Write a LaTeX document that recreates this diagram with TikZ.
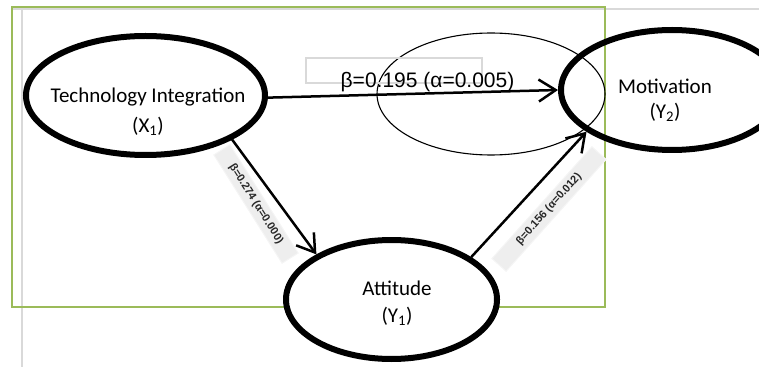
\documentclass[tikz,border=0pt]{standalone}
\usepackage{fontspec}
\setmainfont{Carlito}
\newfontfamily\arialf{Liberation Sans}
\usetikzlibrary{arrows.meta,shapes.geometric}
\definecolor{olivegreen}{HTML}{9BBB59}
\definecolor{gridgray}{RGB}{217,217,217}
\begin{document}
\begin{tikzpicture}[x=1pt,y=1pt,
  gridl/.style={draw=gridgray,line width=2pt},
  greenl/.style={draw=olivegreen,line width=2pt},
  bigell/.style={ellipse,draw=black,line width=6pt,inner sep=0pt},
  thinell/.style={ellipse,draw=black,line width=1.1pt,inner sep=0pt},
  graybox/.style={rectangle,draw=gridgray,line width=2pt,inner sep=0pt},
  arr/.style={line width=2.5pt,-{Straight Barb[length=17pt,width=22pt,line width=2.5pt]}},
  txt/.style={align=center,font=\fontsize{21}{27}\selectfont,inner sep=0pt},
  rlbl/.style={fill=gray!13,draw=gray!8,line width=1pt,inner sep=2pt,minimum height=19pt,
    font=\arialf\bfseries\fontsize{11}{12}\selectfont,text=black!85}
]
\useasboundingbox (0,0) rectangle (759,367);
\clip (0,0) rectangle (759,367);
% page grid lines and frame
\draw[gridl] (12,358) -- (759,358);
\draw[gridl] (22,358) -- (22,0);
\draw[greenl] (12,360) rectangle (605,60);
% thin ellipse and label box
\node[thinell,minimum width=228,minimum height=122] (th) at (491,273) {};
\node[graybox,minimum width=176,minimum height=25] (gb) at (394,296.5) {};
\node[anchor=base,font=\arialf\fontsize{21}{25}\selectfont,inner sep=0pt] (bt) at (427.5,279) {β=0.195 (α=0.005)};
% construct ellipses
\node[bigell,fill=white,minimum width=239,minimum height=119] (ti) at (145.5,271.5) {};
\node[bigell,minimum width=222,minimum height=120] (mo) at (672,277) {};
\node[bigell,fill=white,minimum width=211,minimum height=119] (at) at (391.5,67.5) {};
% texts
\node[txt,font=\fontsize{21}{30}\selectfont] (tit) at (148,255) {Technology Integration\\(X\textsubscript{1})};
\node[txt,font=\fontsize{21}{25}\selectfont] (mot) at (665,266.5) {Motivation\\(Y\textsubscript{2})};
\node[txt] (att) at (397,63.5) {Attitude\\(Y\textsubscript{1})};
% connectors
\draw[arr] (ti.-1) -- (mo.180);
\draw[arr] (ti.-27) -- (at.149);
\draw[arr] (at.28) -- (mo.206);
% rotated path labels
\node[rlbl,rotate=-57.8,minimum width=128] (l1) at (256,163) {β=0.274 (α=0.000)};
\node[rlbl,rotate=48.2,minimum width=150] (l2) at (549,158) {β=0.156 (α=0.012)};
\end{tikzpicture}
\end{document}
